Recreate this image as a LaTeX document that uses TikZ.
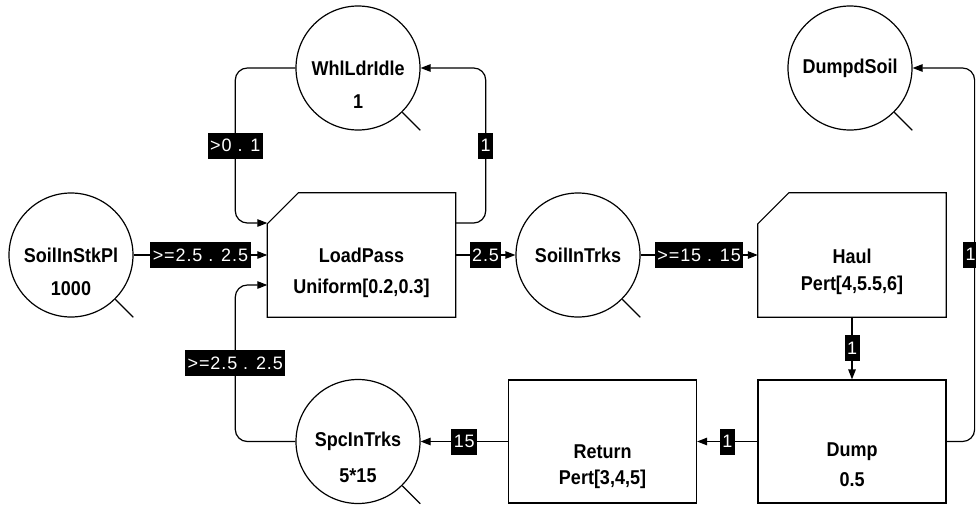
\documentclass[tikz,border=0pt]{standalone}
\usepackage{fontspec}
\newfontfamily\figfont{Liberation Sans}[FakeStretch=0.9]
\newfontfamily\tagfont{Liberation Sans}[LetterSpace=5]
\usetikzlibrary{arrows.meta,positioning,calc}

\begin{document}
\begin{tikzpicture}[x=1pt,y=-1pt,
    queue/.style={circle, draw, line width=1.2pt, minimum size=124pt, inner sep=0pt,
        font=\figfont\bfseries\fontsize{20}{24}\selectfont},
    act/.style={rectangle, minimum width=188pt, minimum height=124pt, inner sep=0pt},
    plainbox/.style={rectangle, draw, line width=1.2pt, minimum width=188pt, minimum height=123pt, inner sep=0pt},
    edge/.style={line width=1.2pt},
    txt/.style={font=\figfont\bfseries\fontsize{20}{24}\selectfont, inner sep=0pt},
    tag/.style={sharp corners, fill=black, text=white, font=\tagfont\fontsize{18}{20}\selectfont,
        inner xsep=2.5pt, inner ysep=0pt, minimum height=26pt},
    flow/.style={line width=1.2pt, -{Triangle[length=10pt,width=7.5pt]}, rounded corners=12pt}]

    \clip (0,0) rectangle (976,506);

    % queues
    \node[queue] (sisp) at (71,255) {SoilInStkPl};
    \node[txt] (sisp-v) at ([yshift=-34pt]sisp.center) {1000};
    \node[queue] (wli) at (358,68) {WhlLdrIdle};
    \node[txt] (wli-v) at ([yshift=-34pt]wli.center) {1};
    \node[queue] (sit) at (578,255) {SoilInTrks};
    \node[queue] (dds) at (850,68) {DumpdSoil};
    \node[queue] (spc) at (358,441.5) {SpcInTrks};
    \node[txt] (spc-v) at ([yshift=-34pt]spc.center) {5*15};

    \foreach \q in {sisp,wli,sit,dds,spc}
        \draw[edge] (\q.-45) -- ++(18,18);

    % activities
    \node[act] (lp) at (361.5,255) {};
    \node[txt] (lp-n) at (lp.center) {LoadPass};
    \node[txt] (lp-v) at ([yshift=-33pt]lp.center) {Uniform[0.2,0.3]};
    \node[act] (haul) at (852,255) {};
    \node[txt] (haul-n) at ([yshift=-1pt]haul.center) {Haul};
    \node[txt] (haul-v) at ([yshift=-30pt]haul.center) {Pert[4,5.5,6]};
    \foreach \a in {lp,haul}
        \draw[edge] ([yshift=-31pt]\a.north west) -- ([xshift=31pt]\a.north west)
            -- (\a.north east) -- (\a.south east) -- (\a.south west) -- cycle;
    \node[plainbox] (ret) at (602.5,441.5) {};
    \node[txt] (ret-n) at ([yshift=-10pt]ret.center) {Return};
    \node[txt] (ret-v) at ([yshift=-38pt]ret.center) {Pert[3,4,5]};
    \node[plainbox] (dump) at (852,441.5) {};
    \node[txt] (dump-n) at ([yshift=-10pt]dump.center) {Dump};
    \node[txt] (dump-v) at ([yshift=-38pt]dump.center) {0.5};

    % bends
    \coordinate (l1) at ([xshift=-32pt,yshift=32pt]lp.west);
    \coordinate (l2) at ([xshift=-32pt,yshift=-30pt]lp.west);
    \coordinate (r1) at ([xshift=30pt,yshift=32pt]lp.east);
    \coordinate (r2) at ([xshift=28pt]dump.east);

    % arcs
    \draw[flow] (sisp) -- node[tag]{>=2.5 . 2.5} (lp);
    \draw[flow] (wli.west) -| node[tag,pos=0.75]{>0 . 1} (l1) -- (l1 -| lp.west);
    \draw[flow] (r1 -| lp.east) -| node[tag,pos=0.75]{1} (r1 |- wli.east) -- (wli.east);
    \draw[flow] (lp) -- node[tag]{2.5} (sit);
    \draw[flow] (sit) -- node[tag]{>=15 . 15} (haul);
    \draw[flow] (haul) -- node[tag]{1} (dump);
    \draw[flow] (dump) -- node[tag]{1} (ret);
    \draw[flow] (ret) -- node[tag]{15} (spc);
    \draw[flow] (spc.west) -| node[tag,pos=0.75]{>=2.5 . 2.5} (l2) -- (l2 -| lp.west);
    \draw[flow] (dump.east) -| node[tag,pos=0.75,xshift=-4pt]{1} (r2 |- dds.east) -- (dds.east);
\end{tikzpicture}
\end{document}
